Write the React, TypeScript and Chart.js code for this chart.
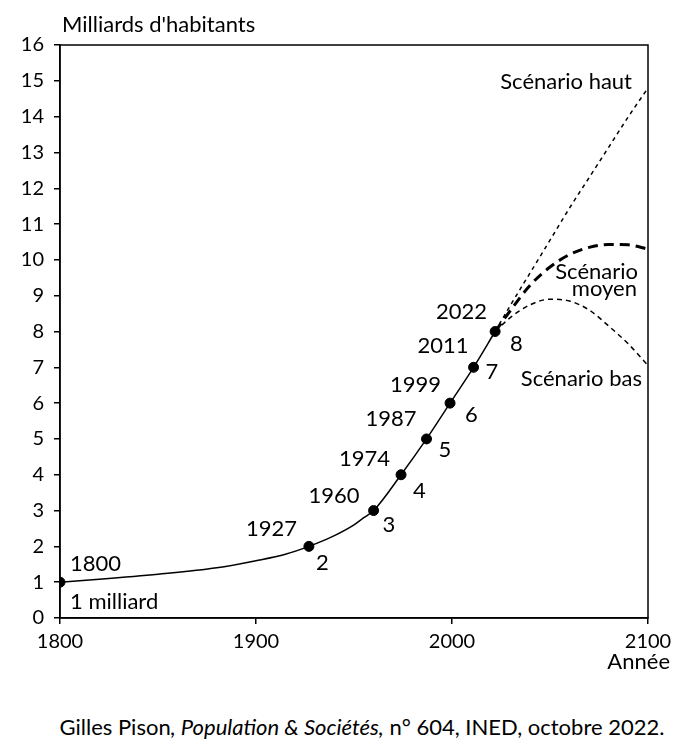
import React, { useEffect, useRef } from "react";
import { Chart, registerables } from "chart.js";

Chart.register(...registerables);

// ---- Data ----
const historyYears = [1800, 1820, 1850, 1880, 1900, 1915, 1927, 1940, 1950, 1955, 1960, 1974, 1987, 1999, 2011, 2022];
const historyValues = [1, 1.08, 1.22, 1.4, 1.6, 1.78, 2, 2.3, 2.6, 2.8, 3, 4, 5, 6, 7, 8];

const milestoneYears = [1800, 1927, 1960, 1974, 1987, 1999, 2011, 2022];
const milestoneValues = [1, 2, 3, 4, 5, 6, 7, 8];
const milestoneNumberLabels = ["1 milliard", "2", "3", "4", "5", "6", "7", "8"];

const projectionYears = [2022, 2030, 2040, 2050, 2060, 2070, 2080, 2090, 2100];
const highValues = [8, 8.75, 9.65, 10.55, 11.45, 12.3, 13.15, 14.0, 14.8];
const mediumValues = [8, 8.6, 9.3, 9.8, 10.15, 10.35, 10.43, 10.42, 10.3];
const lowValues = [8, 8.4, 8.75, 8.9, 8.85, 8.6, 8.15, 7.65, 7.05];

const yTicks = { min: 0, max: 16, step: 1 };
const xTicks = { min: 1800, max: 2100, step: 100 };

const yAxisTitle = "Milliards d'habitants";
const xAxisTitle = "Année";
const scenarioLabels = { high: "Scénario haut", medium: ["Scénario", "moyen"], low: "Scénario bas" };

// ---- Layout / style (offsets of labels relative to their points, in px) ----
const FONT = "Lato, 'Open Sans', sans-serif";
const FS = 22;
const TICK_FS = 20;
const yearLabelOffsets = [
  [10, -18], [-12, -17], [-14, -15], [-11, -16], [-10, -20], [-9, -18], [-5, -21], [-8, -20],
];
const numberLabelOffsets = [
  [10, 20], [7, 17], [9, 14], [12, 16], [12, 11], [15, 12], [12, 5], [15, 12],
];

const toXY = (xs: number[], ys: number[]) => xs.map((x, i) => ({ x, y: ys[i] }));

const labelsPlugin = {
  id: "labels",
  afterDatasetsDraw(chart: any) {
    const { ctx, chartArea, scales } = chart;
    const xs = scales.x;
    const ys = scales.y;
    ctx.save();
    // frame (top and right borders)
    ctx.strokeStyle = "#000";
    ctx.lineWidth = 1.5;
    ctx.strokeRect(chartArea.left, chartArea.top, chartArea.right - chartArea.left, chartArea.bottom - chartArea.top);

    ctx.fillStyle = "#000";
    ctx.font = `${FS}px ${FONT}`;
    ctx.textBaseline = "middle";

    milestoneYears.forEach((yr, i) => {
      const px = xs.getPixelForValue(yr);
      const py = ys.getPixelForValue(milestoneValues[i]);
      const [dx, dy] = yearLabelOffsets[i];
      ctx.textAlign = i === 0 ? "left" : "right";
      ctx.fillText(String(yr), px + dx, py + dy);
      const [nx, ny] = numberLabelOffsets[i];
      ctx.textAlign = "left";
      ctx.fillText(milestoneNumberLabels[i], px + nx, py + ny);
    });

    // scenario labels
    const right = chartArea.right;
    ctx.textAlign = "right";
    ctx.fillText(scenarioLabels.high, right - 16, ys.getPixelForValue(14.97));
    ctx.fillText(scenarioLabels.medium[0], right - 10, ys.getPixelForValue(9.66));
    ctx.fillText(scenarioLabels.medium[1], right - 11, ys.getPixelForValue(9.18));
    ctx.fillText(scenarioLabels.low, right - 6, ys.getPixelForValue(6.68));

    // axis titles
    ctx.textAlign = "left";
    ctx.fillText(yAxisTitle, chartArea.left + 2, chartArea.top - 20);
    ctx.textAlign = "right";
    ctx.fillText(xAxisTitle, right + 22, chartArea.bottom + 44);
    ctx.restore();
  },
};

export default function App() {
  const ref = useRef<HTMLCanvasElement | null>(null);
  useEffect(() => {
    if (!ref.current) return;
    const chart = new Chart(ref.current, {
      type: "scatter",
      data: {
        datasets: [
          {
            data: toXY(projectionYears, highValues),
            showLine: true,
            borderColor: "#000",
            borderWidth: 1.5,
            borderDash: [4, 4],
            pointRadius: 0,
            cubicInterpolationMode: "monotone",
          },
          {
            data: toXY(projectionYears, mediumValues),
            showLine: true,
            borderColor: "#000",
            borderWidth: 3,
            borderDash: [10, 6],
            pointRadius: 0,
            cubicInterpolationMode: "monotone",
          },
          {
            data: toXY(projectionYears, lowValues),
            showLine: true,
            borderColor: "#000",
            borderWidth: 1.5,
            borderDash: [5, 4],
            pointRadius: 0,
            cubicInterpolationMode: "monotone",
          },
          {
            data: toXY(historyYears, historyValues),
            showLine: true,
            borderColor: "#000",
            borderWidth: 1.5,
            pointRadius: 0,
            cubicInterpolationMode: "monotone",
          },
          {
            data: toXY(milestoneYears, milestoneValues),
            showLine: false,
            backgroundColor: "#000",
            borderColor: "#000",
            pointRadius: 5,
          },
        ] as any,
      },
      options: {
        responsive: false,
        animation: false,
        layout: { padding: { top: 45, right: 44, left: 0, bottom: 0 } },
        plugins: { legend: { display: false }, tooltip: { enabled: false } },
        scales: {
          x: {
            type: "linear",
            min: xTicks.min,
            max: xTicks.max,
            afterFit: (s: any) => { s.height = 72; },
            ticks: {
              stepSize: xTicks.step,
              color: "#000",
              font: { family: FONT, size: TICK_FS },
              padding: 6,
              maxRotation: 0,
              callback: (v: any) => String(v),
            },
            grid: { drawOnChartArea: false, drawTicks: true, tickLength: 6, color: "#000", lineWidth: 1.5 },
            border: { display: true, color: "#000", width: 1.5 },
          },
          y: {
            min: yTicks.min,
            max: yTicks.max,
            afterFit: (s: any) => { s.width = 60; },
            ticks: {
              stepSize: yTicks.step,
              color: "#000",
              font: { family: FONT, size: TICK_FS },
              padding: 10,
              callback: (v: any) => String(v),
            },
            grid: { drawOnChartArea: false, drawTicks: true, tickLength: 6, color: "#000", lineWidth: 1.5 },
            border: { display: true, color: "#000", width: 1.5 },
          },
        },
      },
      plugins: [labelsPlugin],
    });
    return () => chart.destroy();
  }, []);

  return (
    <div style={{ position: "absolute", left: 0, top: 0, width: 692, height: 754, background: "#fff" }}>
      <canvas ref={ref} width={692} height={690} style={{ display: "block" }} />
      <div
        style={{
          position: "absolute",
          left: 16,
          width: 692,
          top: 713,
          textAlign: "center",
          fontFamily: FONT,
          fontSize: FS,
          color: "#000",
          lineHeight: "28px",
          whiteSpace: "nowrap",
        }}
      >
        Gilles Pison<i>, Population &amp; Sociétés,</i> n° 604, INED, octobre 2022.
      </div>
    </div>
  );
}
